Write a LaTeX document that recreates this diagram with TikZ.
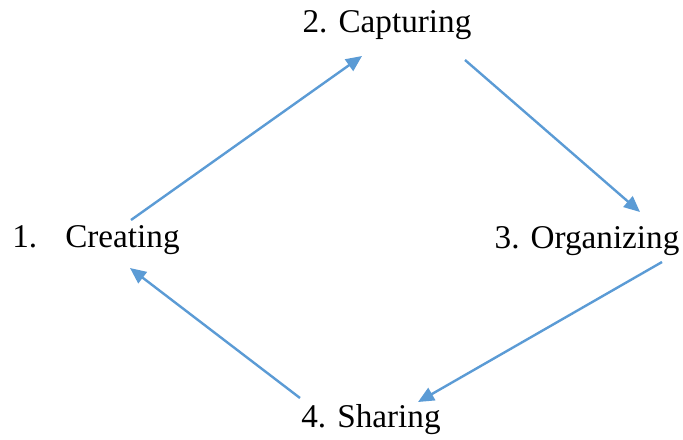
\documentclass[tikz,border=0pt]{standalone}
\usepackage{fontspec}
\setmainfont{Liberation Serif}
\usetikzlibrary{positioning, arrows.meta}
\definecolor{cycleBlue}{HTML}{5B9BD5}

\begin{document}
\begin{tikzpicture}[x=0.5pt, y=-0.5pt,
    font=\fontsize{16.6}{18}\selectfont,
    stage/.style={inner sep=0pt, text=black},
    flow/.style={cycleBlue, line width=1.2pt, -{Triangle[length=8pt, width=7pt]}}]
  \useasboundingbox (0,0) rectangle (683,439);
  % Stufen
  \node[stage] (creating)   at (96,240)  {1.\hspace{14pt}Creating};
  \node[stage] (capturing)  at (387,25)  {2. Capturing};
  \node[stage] (organizing) at (587,241) {3. Organizing};
  \node[stage] (sharing)    at (371,420) {4. Sharing};
  % Pfeile
  \draw[flow] ([shift={(35,-20)}]creating.center) -- ([shift={(-25,31)}]capturing.center);
  \draw[flow] ([shift={(78,35)}]capturing.center) -- ([shift={(53,-29)}]organizing.center);
  \draw[flow] ([shift={(75,21)}]organizing.center) -- ([shift={(47,-18)}]sharing.center);
  \draw[flow] ([shift={(-71,-22)}]sharing.center) -- ([shift={(34,28)}]creating.center);
\end{tikzpicture}
\end{document}
